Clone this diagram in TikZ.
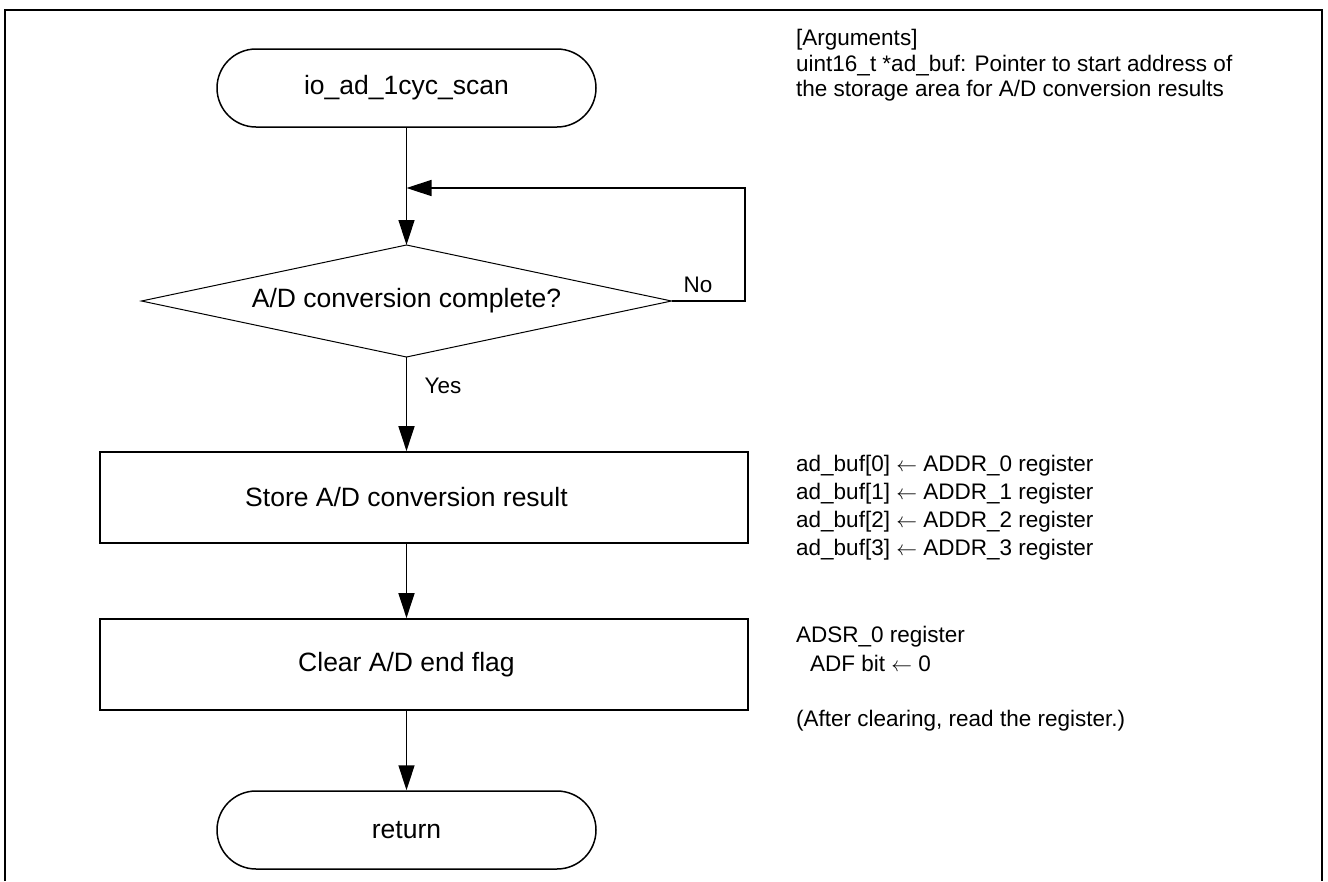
\documentclass[tikz,border=0pt]{standalone}
\usepackage{fontspec}
\setmainfont{Liberation Sans}
\usetikzlibrary{shapes.misc,arrows.meta}
\begin{document}
\begin{tikzpicture}[x=1pt,y=-1pt,
  bigfont/.style={font=\fontsize{26.5}{31}\selectfont},
  smallfont/.style={font=\fontsize{22.5}{27}\selectfont},
  term/.style={draw, line width=1.5pt, rounded rectangle, minimum width=379pt, minimum height=78pt, inner sep=0pt, bigfont},
  procbox/.style={draw, line width=1.7pt, rectangle, minimum width=648pt, minimum height=91pt, inner sep=0pt},
  decline/.style={line width=1pt},
  arr/.style={line width=1.5pt, -{Triangle[length=25pt,width=16pt]}},
  note/.style={anchor=base west, inner sep=0pt, smallfont},
  lbl/.style={inner sep=0pt, smallfont}
]
\useasboundingbox (0,0) rectangle (1328,881);
% frame
\draw[line width=2pt] (5,881) -- (5,10) -- (1322,10) -- (1322,881);

% flowchart
\node[term] (start) at (406.5,88) {io\_ad\_1cyc\_scan};

\coordinate (dN) at (406.5,245);
\coordinate (dE) at (671.5,301);
\coordinate (dS) at (406.5,357);
\coordinate (dW) at (141.5,301);
\draw[decline] (dN) -- (dE) -- (dS) -- (dW) -- cycle;
\node[bigfont, inner sep=0pt] (dec) at (406.5,301) {A/D conversion complete?};

\node[procbox] (box1) at (424,497.5) {};
\node[bigfont, inner sep=0pt] (t1) at (406.5,497.5) {Store A/D conversion result};
\node[procbox] (box2) at (424,664.5) {};
\node[bigfont, inner sep=0pt] (t2) at (406.5,664.5) {Clear A/D end flag};
\node[term] (ret) at (406.5,830) {return};

\coordinate (loopR) at (745,301);
\coordinate (join) at (406.5,188);

\draw[arr] (start.south) -- (dN);
\draw[arr] (dE) -- (loopR) |- (join);
\draw[arr] (dS) -- (dS |- box1.north);
\draw[arr] (box1.south -| start.south) -- (box2.north -| start.south);
\draw[arr] (box2.south -| start.south) -- (ret.north);

\node[lbl] (no) at (698,285) {No};
\node[lbl] (yes) at (443,386) {Yes};

% notes
\node[note] (n1) at (796,45) {[Arguments]};
\node[note] (n2) at (796,71) {uint16\_t *ad\_buf: Pointer to start address of};
\node[note] (n3) at (796,96) {the storage area for A/D conversion results};

\node[note] (r0) at (796,471) {ad\_buf[0] $\leftarrow$ ADDR\_0 register};
\node[note] (r1) at (796,499) {ad\_buf[1] $\leftarrow$ ADDR\_1 register};
\node[note] (r2) at (796,527) {ad\_buf[2] $\leftarrow$ ADDR\_2 register};
\node[note] (r3) at (796,555) {ad\_buf[3] $\leftarrow$ ADDR\_3 register};

\node[note] (c0) at (796,642) {ADSR\_0 register};
\node[note] (c1) at (810,671) {ADF bit $\leftarrow$ 0};
\node[note] (c2) at (796,726) {(After clearing, read the register.)};
\end{tikzpicture}
\end{document}
